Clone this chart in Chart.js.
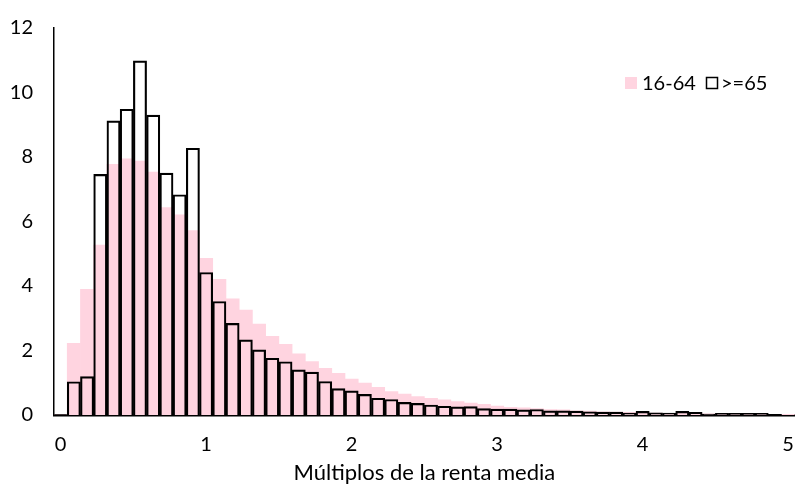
<!DOCTYPE html>
<html>
<head>
<meta charset="utf-8">
<script src="https://cdn.jsdelivr.net/npm/chart.js@4"></script>
<style>
  html, body { margin: 0; padding: 0; background: #fff; overflow: hidden; }
  #wrap { width: 812px; height: 486px; }
</style>
</head>
<body>
<div id="wrap"><canvas id="chart"></canvas></div>
<script>
const xTicks = ['0', '1', '2', '3', '4', '5'];
const binsPerUnit = 11;
const seriesNames = ['16-64', '>=65'];

// share of population per income bin
const young = [0, 2.22, 3.90, 5.27, 7.77, 7.94, 7.87, 7.53, 6.43, 6.21, 5.72,
  4.86, 4.21, 3.60, 3.25, 2.82, 2.44, 2.19, 1.90, 1.66, 1.45,
  1.29, 1.11, 0.99, 0.86, 0.73, 0.65, 0.57, 0.52, 0.47, 0.42,
  0.37, 0.33, 0.28, 0.24, 0.22, 0.20, 0.17, 0.16, 0.13, 0.12,
  0.10, 0.09, 0.08, 0.07, 0.06, 0.05, 0.05, 0.04, 0.04, 0.03,
  0.03, 0.03, 0.02, 0.02, 0.02];
const old = [0, 1.03, 1.19, 7.46, 9.12, 9.48, 10.98, 9.30, 7.50, 6.83, 8.27,
  4.42, 3.52, 2.84, 2.33, 2.02, 1.76, 1.65, 1.40, 1.33, 1.04,
  0.82, 0.75, 0.64, 0.52, 0.48, 0.39, 0.36, 0.31, 0.27, 0.25,
  0.26, 0.20, 0.18, 0.18, 0.16, 0.17, 0.13, 0.13, 0.12, 0.10,
  0.09, 0.09, 0.06, 0.11, 0.07, 0.06, 0.11, 0.08, 0.03, 0.05,
  0.05, 0.05, 0.05, 0.02, 0];

const labels = young.map((_, i) => (i % binsPerUnit === 0 ? xTicks[i / binsPerUnit] : ''));

const FONT = 'Lato, "Open Sans", sans-serif';
const PINK = '#FFD4E0';

// legend sits inside the plot, top right
const insideLegend = {
  id: 'insideLegend',
  afterDraw(chart) {
    const ctx = chart.ctx;
    ctx.save();
    ctx.font = '20px ' + FONT;
    ctx.textBaseline = 'middle';
    ctx.fillStyle = PINK;
    ctx.fillRect(625, 77, 12, 12);
    ctx.fillStyle = '#000';
    ctx.fillText(seriesNames[0], 642, 84);
    ctx.strokeStyle = '#000';
    ctx.lineWidth = 1.5;
    ctx.strokeRect(706.5, 77.5, 11, 11);
    ctx.fillText(seriesNames[1], 721, 84);
    ctx.restore();
  },
};

new Chart(document.getElementById('chart'), {
  type: 'bar',
  data: {
    labels: labels,
    datasets: [
      {
        label: seriesNames[0],
        data: young,
        backgroundColor: PINK,
        borderWidth: 0,
        order: 1,
      },
      {
        label: seriesNames[1],
        data: old,
        backgroundColor: 'rgba(0,0,0,0)',
        borderColor: '#000',
        borderWidth: 1.5,
        order: 0,
      },
    ],
  },
  options: {
    responsive: true,
    maintainAspectRatio: false,
    animation: false,
    grouped: false,
    categoryPercentage: 1,
    barPercentage: 1,
    layout: { padding: { top: 28, right: 7, left: 0, bottom: 0 } },
    plugins: {
      legend: { display: false },
      tooltip: { enabled: false },
    },
    scales: {
      x: {
        grid: { display: false, drawTicks: false },
        border: { display: true, color: '#000', width: 2.5 },
        ticks: {
          autoSkip: false,
          maxRotation: 0,
          padding: 18,
          color: '#000',
          font: { size: 20, family: FONT },
        },
        title: {
          display: true,
          text: 'Múltiplos de la renta media',
          color: '#000',
          padding: { top: 0, bottom: 0 },
          font: { size: 22, family: FONT },
        },
        afterFit: (s) => { s.height = 71; },
      },
      y: {
        min: 0,
        max: 12,
        grid: { display: false, drawTicks: false },
        border: { display: true, color: '#000', width: 1.5 },
        ticks: {
          stepSize: 2,
          padding: 21,
          color: '#000',
          font: { size: 20, family: FONT },
        },
        afterFit: (s) => {
          s.width = 54;
          s.paddingTop = 10;
          s.paddingBottom = 10;
        },
      },
    },
  },
  plugins: [insideLegend],
});
</script>
</body>
</html>
